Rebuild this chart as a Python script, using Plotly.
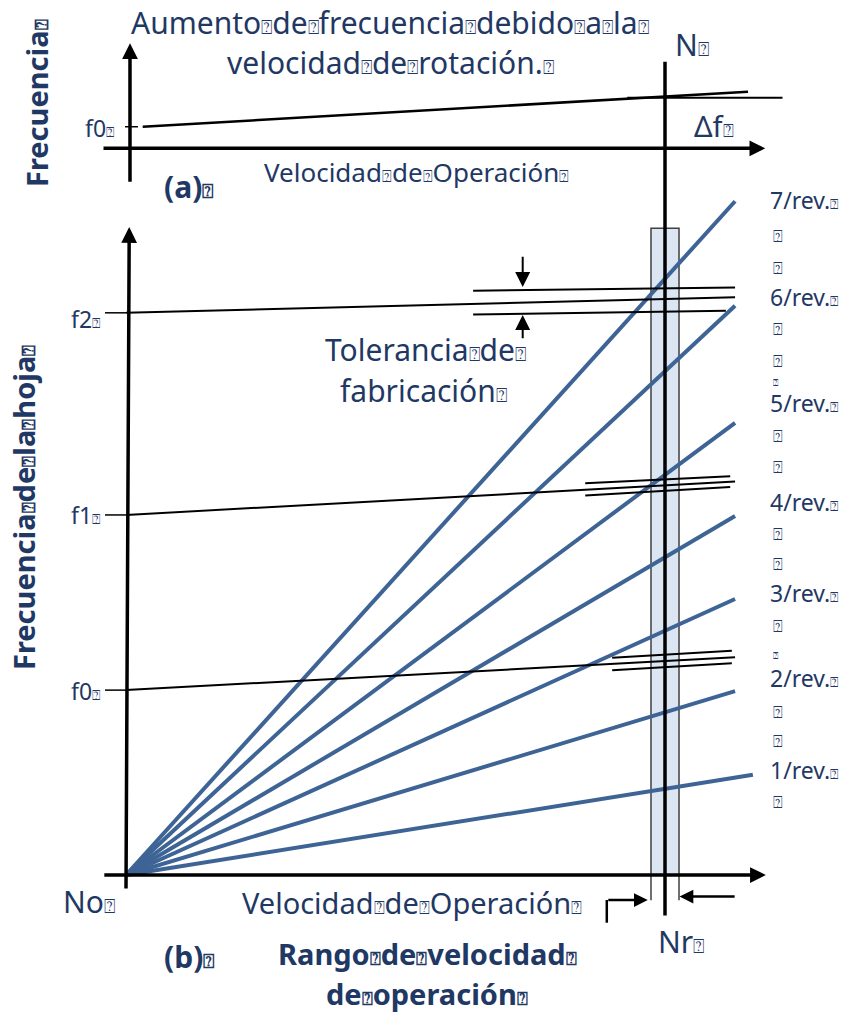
import plotly.graph_objects as go

W, H = 850, 1012

# ---------------- data : (b) Campbell diagram ----------------
orders = [1, 2, 3, 4, 5, 6, 7]
order_labels = ["1/rev.", "2/rev.", "3/rev.", "4/rev.", "5/rev.", "6/rev.", "7/rev."]
order_end_speed = [116.3, 113.0, 113.0, 113.0, 113.0, 113.0, 113.0]
order_end_freq = [18.6, 34.1, 51.2, 66.6, 83.9, 105.6, 125.0]

blade_freq_labels = ["f0", "f1", "f2"]
blade_freq_at_rest = [34.3, 66.8, 104.3]
blade_freq_at_end = [40.4, 73.0, 107.2]
blade_line_end_speed = 113.0

tol_upper_x0 = [90.2, 85.2, 64.4]
tol_upper_y0 = [40.3, 72.7, 108.4]
tol_upper_x1 = [112.4, 112.1, 113.0]
tol_upper_y1 = [41.6, 74.0, 109.0]
tol_lower_x0 = [90.2, 85.2, 64.4]
tol_lower_y0 = [38.0, 70.4, 104.0]
tol_lower_x1 = [112.4, 112.1, 111.3]
tol_lower_y1 = [39.3, 72.0, 104.7]

rated_speed = 100.0
speed_range = [97.4, 102.6]
speed_range_top = 120.0

# ---------------- data : (a) frequency rise ----------------
top_f0 = 4.0
top_line_speed = [3.1, 115.4]
top_line_freq = [4.0, 10.5]
top_delta_speed = [93.0, 121.8]
top_delta_freq = 9.4

# ---------------- styles / layout helpers ----------------
K = 5.39                 # px per unit
OX, OY = 126, 875        # origin of (b) in px
TOPY = 148.3             # baseline of (a) in px
TXT = "#1F3864"
BLUE = "#3D6495"
FONT = "Noto Sans"
T = '<span style="font-size:0.62em">⍰</span>'


def P(px, py):
    return px / W, 1 - py / H


fig = go.Figure()

# order lines
for s, f in zip(order_end_speed, order_end_freq):
    fig.add_trace(go.Scatter(x=[0, s], y=[0, f], mode="lines",
                             line=dict(color=BLUE, width=4), hoverinfo="skip"))

# blade natural frequency lines + ticks
for f0, f1 in zip(blade_freq_at_rest, blade_freq_at_end):
    fig.add_trace(go.Scatter(x=[0, blade_line_end_speed], y=[f0, f1], mode="lines",
                             line=dict(color="black", width=2), hoverinfo="skip"))
    fig.add_trace(go.Scatter(x=[-3.9, 0], y=[f0, f0], mode="lines",
                             line=dict(color="black", width=1.5), hoverinfo="skip"))

# tolerance lines
for i in range(3):
    fig.add_trace(go.Scatter(x=[tol_upper_x0[i], tol_upper_x1[i]], y=[tol_upper_y0[i], tol_upper_y1[i]],
                             mode="lines", line=dict(color="black", width=2), hoverinfo="skip"))
    fig.add_trace(go.Scatter(x=[tol_lower_x0[i], tol_lower_x1[i]], y=[tol_lower_y0[i], tol_lower_y1[i]],
                             mode="lines", line=dict(color="black", width=2), hoverinfo="skip"))

# (a) lines
fig.add_trace(go.Scatter(x=top_line_speed, y=top_line_freq, mode="lines", yaxis="y2",
                         line=dict(color="black", width=2.6), hoverinfo="skip"))
fig.add_trace(go.Scatter(x=top_delta_speed, y=[top_delta_freq, top_delta_freq], mode="lines", yaxis="y2",
                         line=dict(color="black", width=2), hoverinfo="skip"))
fig.add_trace(go.Scatter(x=[-0.19, 2.23], y=[top_f0, top_f0], mode="lines", yaxis="y2",
                         line=dict(color="black", width=1.5), hoverinfo="skip"))

shapes = [
    dict(type="rect", xref="x", yref="y", x0=speed_range[0], x1=speed_range[1], y0=0, y1=speed_range_top,
         fillcolor="#DCE6F2", line=dict(color="#404040", width=1.5), layer="below"),
    dict(type="line", xref="x", yref="y", x0=speed_range[0], x1=speed_range[0], y0=0, y1=-4.7,
         line=dict(color="#404040", width=1.5)),
    dict(type="line", xref="x", yref="y", x0=speed_range[1], x1=speed_range[1], y0=0, y1=-4.7,
         line=dict(color="#404040", width=1.5)),
    dict(type="line", xref="x", yref="y", x0=rated_speed, x1=rated_speed, y0=-7.5, y1=150.9,
         line=dict(color="black", width=3.5)),
    dict(type="line", xref="x", yref="y", x0=89.2, x1=89.2, y0=-8.85, y1=-4.64,
         line=dict(color="black", width=2.5)),
]

anns = []


def arrow(x0, y0, x1, y1, width, size, yref="y"):
    anns.append(dict(x=x1, y=y1, ax=x0, ay=y0, xref="x", yref=yref, axref="x", ayref=yref,
                     showarrow=True, arrowhead=2, arrowwidth=width, arrowsize=size,
                     arrowcolor="black", text="", standoff=0, startstandoff=0))


# axes (b)
arrow(-4.3, 0, 118.7, 0, 3.5, 0.9)
arrow(0, -2.8, 0.6, 120.2, 3.5, 0.9)
# axes (a)
arrow(-4.45, 0, 118.6, 0, 3.5, 0.9, "y2")
arrow(0.74, -6.5, 0.74, 19.5, 3.5, 0.9, "y2")
# tolerance arrows
arrow(73.6, 115.0, 73.6, 109.1, 2, 1.5)
arrow(73.6, 99.3, 73.6, 103.9, 2, 1.5)
# operating range arrows
arrow(89.2, -4.64, 96.8, -4.64, 2.5, 1.1)
arrow(113.2, -4.0, 102.7, -4.0, 2.5, 1.1)


def text(s, px, py, size, anchor="left", bold=False, angle=0):
    x, y = P(px, py)
    anns.append(dict(x=x, y=y, xref="paper", yref="paper", text=("<b>%s</b>" % s) if bold else s,
                     showarrow=False, xanchor=anchor, yanchor="middle", textangle=angle,
                     font=dict(family=FONT, size=size, color=TXT)))


text("Aumento%sde%sfrecuencia%sdebido%sa%sla%s" % ((T,) * 6), 390, 22.5, 30, "center")
text("velocidad%sde%srotación.%s" % ((T,) * 3), 390, 62.5, 30, "center")
text("N" + T, 672.7, 44.5, 30)
text("Δf" + T, 691.7, 126, 29)
text("f0" + T, 116, 128, 23, "right")
text("Frecuencia" + T, 37, 103, 29, "center", True, -90)
text("(a)" + T, 161.7, 186, 30, "left", True)
text("Velocidad%sde%sOperación%s" % ((T,) * 3), 261.7, 172, 26)

for lab, py in zip(blade_freq_labels, [691, 515, 319]):
    text(lab + T, 102, py, 23, "right")

text("Frecuencia%sde%sla%shoja%s" % ((T,) * 4), 23.5, 507.5, 29, "center", True, -90)
text("Tolerancia%sde%s" % ((T,) * 2), 425, 349, 30, "center")
text("fabricación" + T, 423, 390, 30, "center")

label_rows = {7: 199.7, 6: 296.7, 5: 403.3, 4: 501.7, 3: 593.3, 2: 678.3, 1: 770}
tofu_rows = [235.7, 267.5, 329, 360.7, 435.7, 467.3, 534, 564, 625.7, 711.7, 740.7, 802.3]
tiny_rows = [382, 655.7]
for o, lab in zip(orders, order_labels):
    text(lab + T, 768, label_rows[o], 23)
for py in tofu_rows:
    text("⍰", 770.7, py, 16)
for py in tiny_rows:
    text("⍰", 770.7, py, 9)

text("No" + T, 60.7, 901, 30)
text("Velocidad%sde%sOperación%s" % ((T,) * 3), 240, 902, 29)
text("(b)" + T, 161.7, 956, 30, "left", True)
text("Rango%sde%svelocidad%s" % ((T,) * 3), 427, 953.7, 29, "center", True)
text("de%soperación%s" % ((T,) * 2), 427, 993, 29, "center", True)
text("Nr" + T, 656, 941, 30)

fig.update_layout(
    width=W, height=H, margin=dict(l=0, r=0, t=0, b=0),
    paper_bgcolor="white", plot_bgcolor="white", showlegend=False,
    xaxis=dict(range=[-OX / K, (W - OX) / K], visible=False, fixedrange=True),
    yaxis=dict(range=[-(H - OY) / K, OY / K], visible=False, fixedrange=True),
    yaxis2=dict(range=[-(H - TOPY) / K, TOPY / K], visible=False, fixedrange=True,
                overlaying="y"),
    shapes=shapes, annotations=anns,
)

fig.write_html("out.html")
